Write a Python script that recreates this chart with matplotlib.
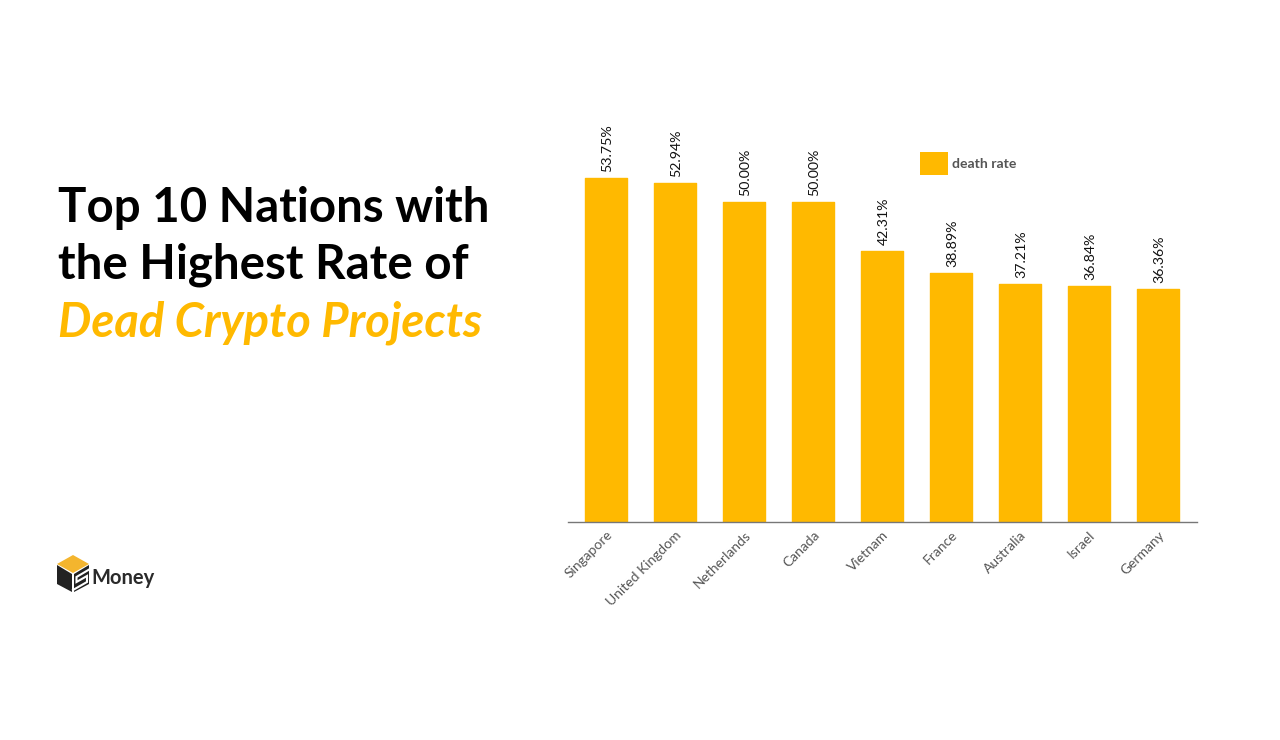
import matplotlib
matplotlib.use("Agg")
import matplotlib.pyplot as plt
from matplotlib.patches import Polygon, Rectangle

plt.rcParams['font.family'] = ['Lato', 'DejaVu Sans']

countries = ["Singapore", "United Kingdom", "Netherlands", "Canada", "Vietnam",
             "France", "Australia", "Israel", "Germany"]
death_rate = [53.75, 52.94, 50.00, 50.00, 42.31, 38.89, 37.21, 36.84, 36.36]

W, H = 1280, 740
YELLOW = "#FFB900"

fig = plt.figure(figsize=(W / 100, H / 100), dpi=100, facecolor="white")

# page layer in pixel coordinates, for the title, logo and legend
page = fig.add_axes([0, 0, 1, 1])
page.set_xlim(0, W)
page.set_ylim(H, 0)
page.axis("off")

page.text(58, 208, "Top 10 Nations with", fontsize=34.1, fontweight="bold", color="black", va="center")
page.text(58, 265, "the Highest Rate of", fontsize=34.2, fontweight="bold", color="black", va="center")
page.text(58, 322.5, "Dead Crypto Projects", fontsize=33.9, fontweight="bold", style="italic",
          color=YELLOW, va="center")

# legend
page.add_patch(Rectangle((920, 152), 28, 23, facecolor=YELLOW, edgecolor="none"))
page.text(952, 163.5, "death rate", fontsize=10.1, fontweight="bold", color="#555555", va="center")

# logo
page.add_patch(Polygon([(73, 555), (89, 564), (73, 573), (57, 564)], facecolor="#F4B52E", edgecolor="none"))
page.add_patch(Polygon([(57, 565), (72, 574), (72, 592), (57, 584)], facecolor="#222222", edgecolor="none"))
page.add_patch(Polygon([(74, 574), (89, 565), (89, 584), (74, 592)], facecolor="#222222", edgecolor="none"))
page.plot([90, 76.5, 76.5, 87, 87, 73], [569, 577, 582, 576, 582, 590], color="white", lw=1.5, solid_joinstyle="miter")
page.text(91, 578, "Money", fontsize=14.5, fontweight="bold", color="#2a2a2a", va="center")

# chart axes: baseline at y=522, spans x=568..1197
ax = fig.add_axes([567.7 / W, 1 - 522 / H, (1196.5 - 567.7) / W, 422 / H])
ax.patch.set_alpha(0)
x = list(range(len(countries)))
ax.bar(x, death_rate, width=0.61, color=YELLOW, edgecolor=YELLOW, linewidth=1, joinstyle="round")
ax.set_xlim(-0.558, 8.558)
ax.set_ylim(0, 422 / 6.40)
ax.set_yticks([])
ax.set_xticks(x)
ax.set_xticklabels(countries, rotation=45, ha="right", rotation_mode="anchor",
                   fontsize=10, color="#555555")
ax.tick_params(axis="x", length=0, pad=4.8)
for s in ["top", "left", "right"]:
    ax.spines[s].set_visible(False)
ax.spines["bottom"].set_color("#777777")
ax.spines["bottom"].set_linewidth(1)

for i, v in zip(x, death_rate):
    ax.annotate(f"{v:.2f}%", (i, v), xytext=(1, 4.5), textcoords="offset points", rotation=90,
                ha="center", va="bottom", fontsize=10.2, color="#111111")

fig.savefig("out.png", dpi=100)
